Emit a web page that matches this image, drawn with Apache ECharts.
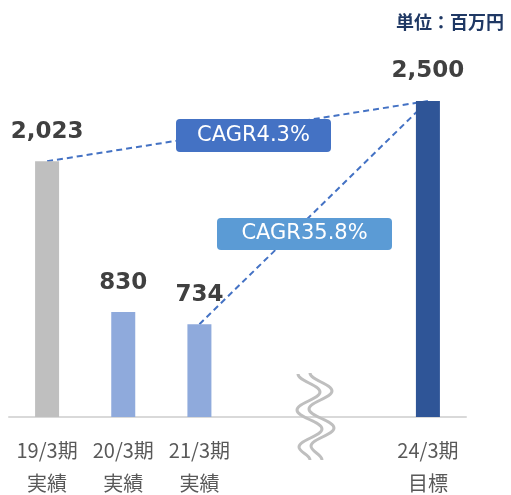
<!DOCTYPE html>
<html>
<head>
<meta charset="utf-8">
<script src="https://cdn.jsdelivr.net/npm/echarts@6/dist/echarts.min.js"></script>
<style>html,body{margin:0;padding:0;background:#fff}#c{width:511px;height:495px}</style>
</head>
<body>
<div id="c"></div>
<script>
const categories = ['19/3期\n実績', '20/3期\n実績', '21/3期\n実績', '', '', '24/3期\n目標'];
const values = [2023, 830, 734, null, null, 2500];
const barColors = ['#BFBFBF', '#8FAADC', '#8FAADC', '#8FAADC', '#8FAADC', '#2F5597'];
const cagrLine1 = [[0, 2023], [5, 2500]];
const cagrLine2 = [[2, 734], [5, 2500]];
const cagrLabels = ['CAGR4.3%', 'CAGR35.8%'];
const unitLabel = '単位：百万円';

// decorative axis-break squiggle (pixel geometry, not data)
const waveA = [[298,374],[320,392],[297,410],[322,429],[299,447],[310,460]];
const waveB = [[310,373],[332,391],[309,409],[334,428],[311,446],[322,460]];
function waveSegments(pts) {
  const out = [];
  for (let i = 0; i < pts.length - 1; i++) {
    const [x1, y1] = pts[i], [x2, y2] = pts[i + 1];
    const k = (y2 - y1) * 0.4;
    out.push({
      type: 'bezierCurve', z: 10, silent: true,
      shape: {x1, y1, x2, y2, cpx1: x1, cpy1: y1 + k, cpx2: x2, cpy2: y2 - k},
      style: {fill: null, stroke: '#BFBFBF', lineWidth: 3}
    });
  }
  return out;
}

const chart = echarts.init(document.getElementById('c'), null, {renderer: 'canvas'});
const dashStyle = {color: '#4472C4', width: 2, type: [6, 4]};
const option = {
  animation: false,
  title: {
    text: unitLabel, right: 2, top: 8,
    textStyle: {fontFamily: 'Noto Sans CJK JP', fontWeight: 'bold', fontSize: 18, color: '#1F3864'}
  },
  grid: {left: 9, right: 45, top: 101, bottom: 78, outerBoundsMode: 'none', containLabel: false},
  xAxis: {
    type: 'category', data: categories, boundaryGap: true,
    axisLine: {lineStyle: {color: '#D9D9D9', width: 2}},
    axisTick: {show: false},
    axisLabel: {
      interval: 0, margin: 17, fontFamily: 'Noto Sans CJK JP', fontSize: 20,
      lineHeight: 33, color: '#595959'
    }
  },
  yAxis: {type: 'value', min: 0, max: 2500, show: false, splitLine: {show: false}},
  series: [
    {type: 'line', data: cagrLine1, symbol: 'none', lineStyle: dashStyle, z: 1, silent: true},
    {type: 'line', data: cagrLine2, symbol: 'none', lineStyle: dashStyle, z: 1, silent: true},
    {
      type: 'bar', barWidth: 24, z: 3,
      data: values.map((v, i) => ({value: v, itemStyle: {color: barColors[i]}})),
      label: {
        show: true, position: 'top', distance: 18,
        fontFamily: 'DejaVu Sans', fontWeight: 'bold', fontSize: 23, color: '#404040',
        formatter: p => p.value == null ? '' : Number(p.value).toLocaleString('en-US')
      }
    }
  ],
  graphic: [
    {type: 'rect', x: 176, y: 119, z: 10, shape: {x: 0, y: 0, width: 155, height: 33, r: 4}, style: {fill: '#4472C4'}},
    {type: 'text', x: 253.5, y: 135.5, z: 11, style: {text: cagrLabels[0], fill: '#fff', font: '21px "DejaVu Sans"', align: 'center', verticalAlign: 'middle'}},
    {type: 'rect', x: 217, y: 218, z: 10, shape: {x: 0, y: 0, width: 175, height: 32, r: 4}, style: {fill: '#5B9BD5'}},
    {type: 'text', x: 304.5, y: 234, z: 11, style: {text: cagrLabels[1], fill: '#fff', font: '21px "DejaVu Sans"', align: 'center', verticalAlign: 'middle'}}
  ].concat(waveSegments(waveA), waveSegments(waveB))
};
chart.setOption(option);
</script>
</body>
</html>
